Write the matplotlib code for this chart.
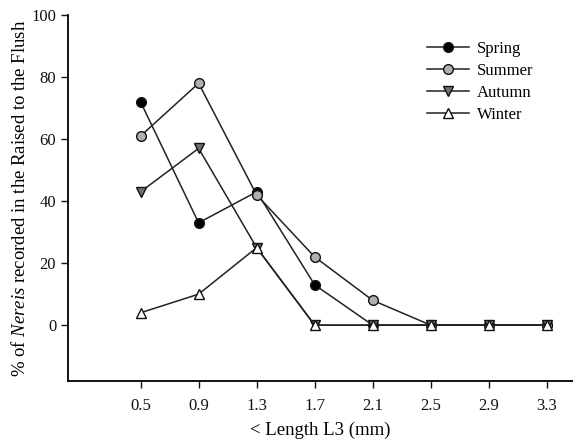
import matplotlib
matplotlib.use("Agg")
import matplotlib.pyplot as plt

lengths = [0.5, 0.9, 1.3, 1.7, 2.1, 2.5, 2.9, 3.3]
spring = [72, 33, 43, 13, 0, 0, 0, 0]
summer = [61, 78, 42, 22, 8, 0, 0, 0]
autumn = [43, 57, 25, 0, 0, 0, 0, 0]
winter = [4, 10, 25, 0, 0, 0, 0, 0]
yticks = [0, 20, 40, 60, 80, 100]

plt.rcParams['font.family'] = ['Liberation Serif', 'DejaVu Serif']
plt.rcParams['mathtext.fontset'] = 'custom'
plt.rcParams['mathtext.it'] = 'Liberation Serif:italic'
plt.rcParams['mathtext.rm'] = 'Liberation Serif'

fig = plt.figure(figsize=(5.73, 4.42), dpi=100)
ax = fig.add_axes([0.1187, 0.138, 0.8813, 0.828])

lc = '#222222'
kw = dict(color=lc, lw=1.1, ms=7, mec='#111111', mew=1.0)
ax.plot(lengths, spring, marker='o', mfc='black', label='Spring', **kw)
ax.plot(lengths, summer, marker='o', mfc='#b0b0b0', label='Summer', **kw)
ax.plot(lengths, autumn, marker='v', mfc='#707070', label='Autumn', **kw)
ax.plot(lengths, winter, marker='^', mfc='white', label='Winter', **kw)

ax.set_xlim(0.0, 3.48)
ax.set_ylim(-18, 100)
ax.set_xticks(lengths)
ax.set_xticklabels([f"{v:.1f}" for v in lengths])
ax.set_yticks(yticks)
for s in ['top', 'right']:
    ax.spines[s].set_visible(False)
for s in ['left', 'bottom']:
    ax.spines[s].set_linewidth(1.3)
ax.tick_params(direction='out', length=5, width=1, labelsize=12, colors='#111111')
ax.tick_params(axis='x', pad=7)
ax.set_xlabel('< Length L3 (mm)', fontsize=13.5, labelpad=6)
ax.set_ylabel(r'% of $\it{Nereis}$ recorded in the Raised to the Flush', fontsize=13.5, labelpad=2)

leg = fig.legend(loc='upper left', bbox_to_anchor=(0.745, 0.908), frameon=False,
                 fontsize=12, handlelength=2.5, labelspacing=0.36, handletextpad=0.5,
                 borderpad=0, borderaxespad=0)

fig.savefig('out.png', dpi=100)
